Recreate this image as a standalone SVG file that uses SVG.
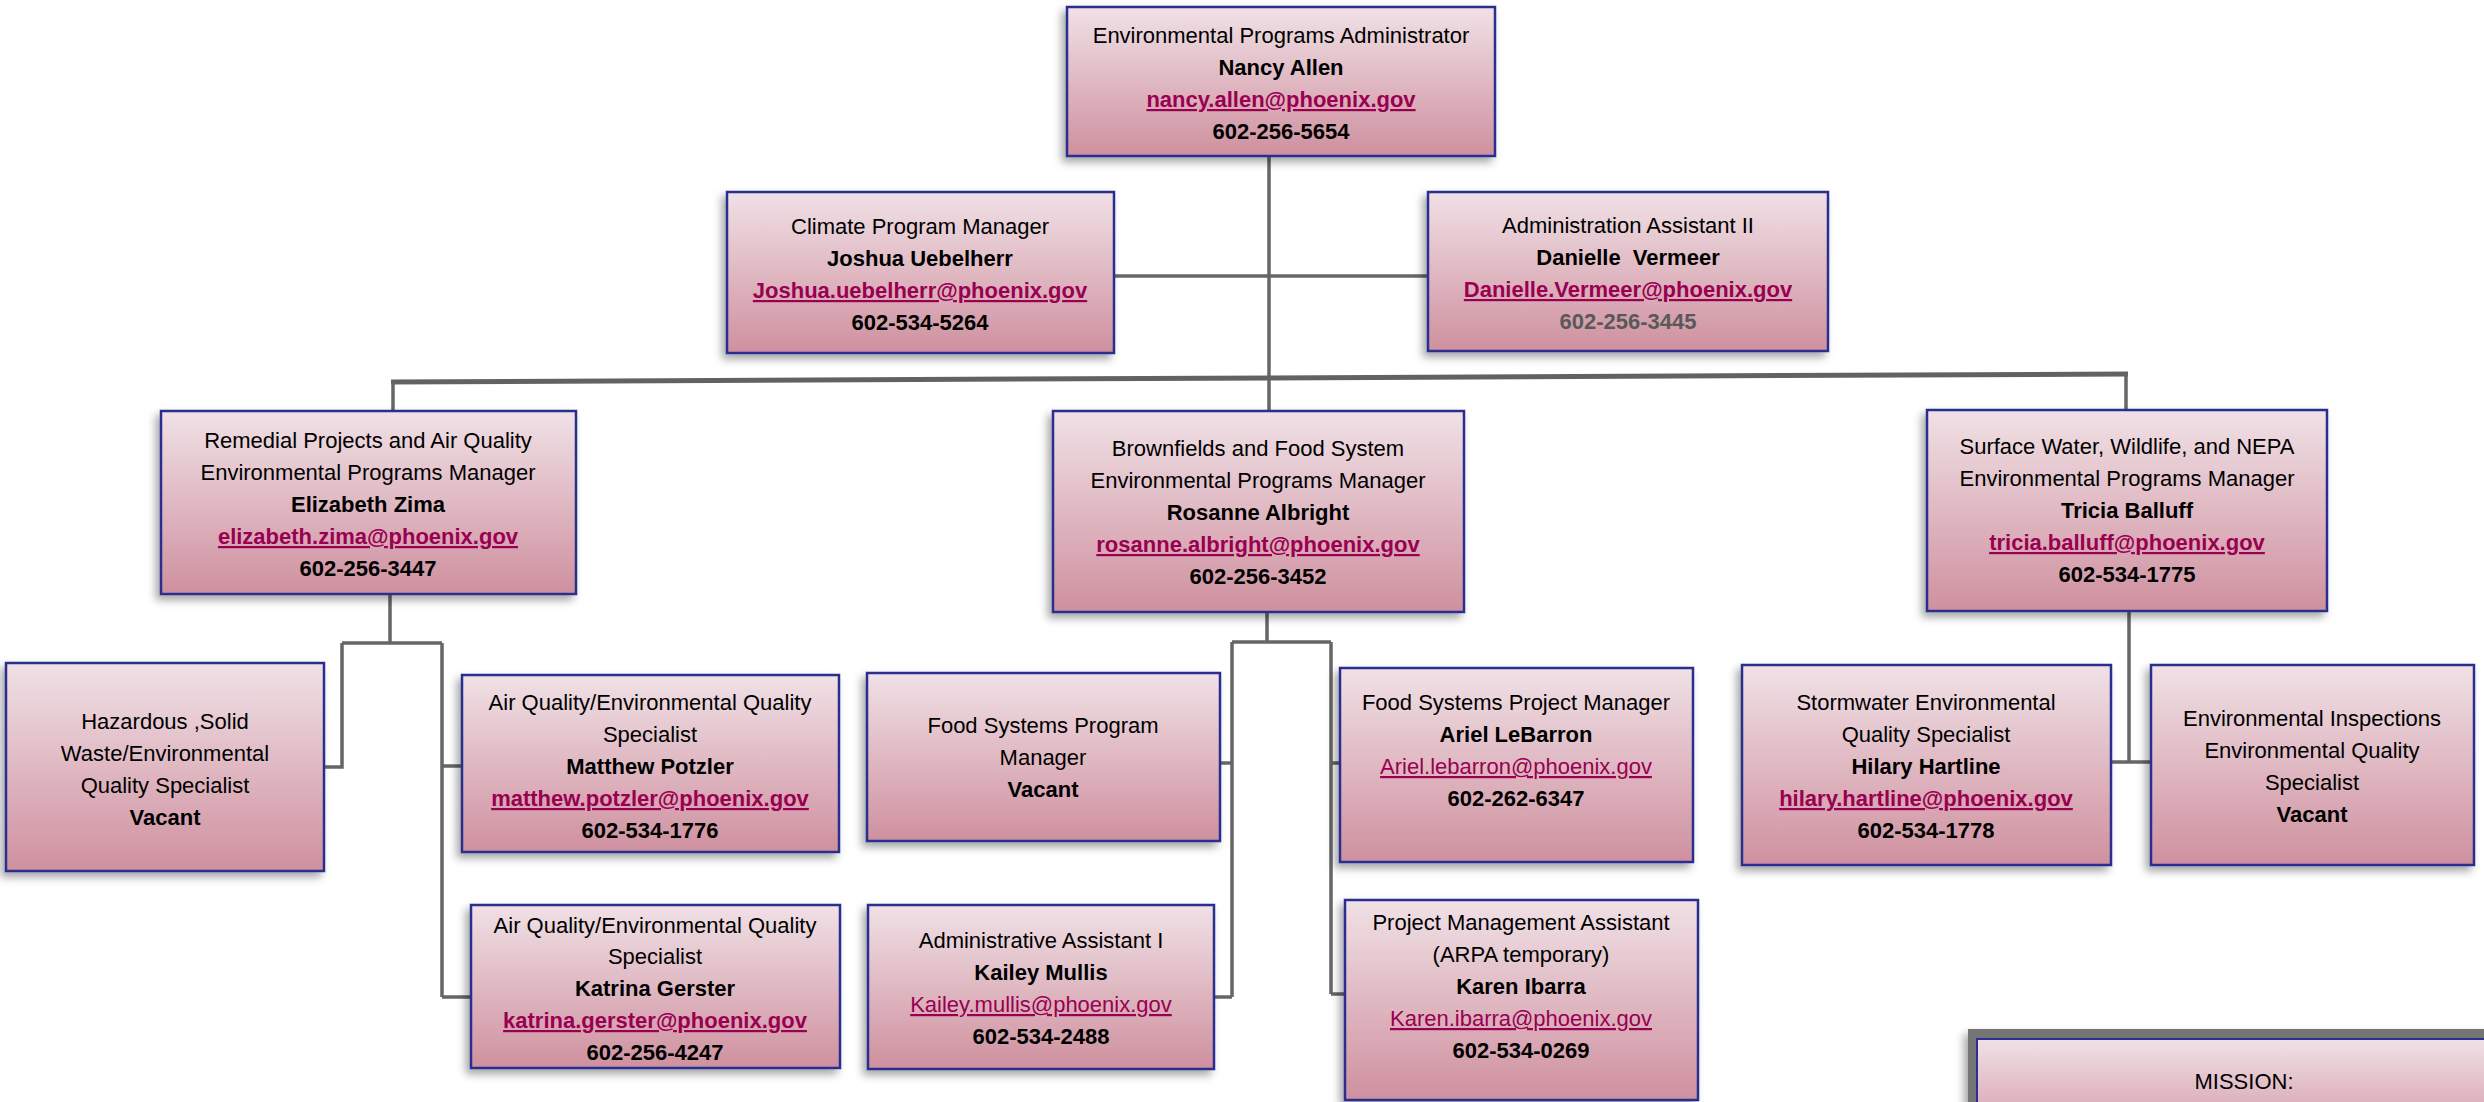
<svg xmlns="http://www.w3.org/2000/svg" width="2484" height="1102" viewBox="0 0 2484 1102">
<defs>
<linearGradient id="g" x1="0" y1="0" x2="0" y2="1">
<stop offset="0" stop-color="#f0e1e6"/>
<stop offset="1" stop-color="#cf909f"/>
</linearGradient>
<filter id="sh" x="-10%" y="-10%" width="120%" height="125%">
<feDropShadow dx="-4" dy="5" stdDeviation="4" flood-color="#000" flood-opacity="0.35"/>
</filter>
<style>
.box{fill:url(#g);stroke:#2b2f8f;stroke-width:2.5;filter:url(#sh)}
text{font-family:"Liberation Sans",Arial,sans-serif;font-size:22px;text-anchor:middle;fill:#000}
.b{font-weight:bold}
.l{fill:#990052;text-decoration:underline}
.gy{fill:#595959}
.c{fill:none;stroke:#666;stroke-width:3.5}
</style>
</defs>
<rect width="2484" height="1102" fill="#fff"/>
<g id="connectors">
<path class="c" d="M1269 156V410"/>
<path class="c" d="M1114 276H1428"/>
<path d="M391 382L2128 374" stroke="#626262" stroke-width="5" fill="none"/>
<path class="c" d="M393 382V411"/>
<path class="c" d="M2126 374V410"/>
<path class="c" d="M390 594V643M342 643H442M342 643V767H324M442 643V997M442 766H462M442 997H471"/>
<path class="c" d="M1267 612V642M1232 642H1331M1232 642V997M1232 763H1220M1232 997H1214M1331 642V994M1331 763H1340M1331 994H1345"/>
<path class="c" d="M2129 611V762M2111 762H2151"/>
</g>
<g id="n-admin">
<rect class="box" x="1067" y="7" width="428" height="149"/>
<text x="1281" y="43">Environmental Programs Administrator</text>
<text x="1281" y="75" class="b">Nancy Allen</text>
<text x="1281" y="107" class="b l">nancy.allen@phoenix.gov</text>
<text x="1281" y="139" class="b">602-256-5654</text>
</g>
<g id="n-climate">
<rect class="box" x="727" y="192" width="387" height="161"/>
<text x="920" y="234">Climate Program Manager</text>
<text x="920" y="266" class="b">Joshua Uebelherr</text>
<text x="920" y="298" class="b l">Joshua.uebelherr@phoenix.gov</text>
<text x="920" y="330" class="b">602-534-5264</text>
</g>
<g id="n-assist2">
<rect class="box" x="1428" y="192" width="400" height="159"/>
<text x="1628" y="233">Administration Assistant II</text>
<text x="1628" y="265" class="b">Danielle&#160; Vermeer</text>
<text x="1628" y="297" class="b l">Danielle.Vermeer@phoenix.gov</text>
<text x="1628" y="329" class="b gy">602-256-3445</text>
</g>
<g id="n-remedial">
<rect class="box" x="161" y="411" width="415" height="183"/>
<text x="368" y="448">Remedial Projects and Air Quality</text>
<text x="368" y="480">Environmental Programs Manager</text>
<text x="368" y="512" class="b">Elizabeth Zima</text>
<text x="368" y="544" class="b l">elizabeth.zima@phoenix.gov</text>
<text x="368" y="576" class="b">602-256-3447</text>
</g>
<g id="n-brownfields">
<rect class="box" x="1053" y="411" width="411" height="201"/>
<text x="1258" y="456">Brownfields and Food System</text>
<text x="1258" y="488">Environmental Programs Manager</text>
<text x="1258" y="520" class="b">Rosanne Albright</text>
<text x="1258" y="552" class="b l">rosanne.albright@phoenix.gov</text>
<text x="1258" y="584" class="b">602-256-3452</text>
</g>
<g id="n-surface">
<rect class="box" x="1927" y="410" width="400" height="201"/>
<text x="2127" y="454">Surface Water, Wildlife, and NEPA</text>
<text x="2127" y="486">Environmental Programs Manager</text>
<text x="2127" y="518" class="b">Tricia Balluff</text>
<text x="2127" y="550" class="b l">tricia.balluff@phoenix.gov</text>
<text x="2127" y="582" class="b">602-534-1775</text>
</g>
<g id="n-hazardous">
<rect class="box" x="6" y="663" width="318" height="208"/>
<text x="165" y="729">Hazardous ,Solid</text>
<text x="165" y="761">Waste/Environmental</text>
<text x="165" y="793">Quality Specialist</text>
<text x="165" y="825" class="b">Vacant</text>
</g>
<g id="n-potzler">
<rect class="box" x="462" y="675" width="377" height="177"/>
<text x="650" y="710">Air Quality/Environmental Quality</text>
<text x="650" y="742">Specialist</text>
<text x="650" y="774" class="b">Matthew Potzler</text>
<text x="650" y="806" class="b l">matthew.potzler@phoenix.gov</text>
<text x="650" y="838" class="b">602-534-1776</text>
</g>
<g id="n-gerster">
<rect class="box" x="471" y="905" width="369" height="163"/>
<text x="655" y="933">Air Quality/Environmental Quality</text>
<text x="655" y="964">Specialist</text>
<text x="655" y="996" class="b">Katrina Gerster</text>
<text x="655" y="1028" class="b l">katrina.gerster@phoenix.gov</text>
<text x="655" y="1060" class="b">602-256-4247</text>
</g>
<g id="n-foodprogram">
<rect class="box" x="867" y="673" width="353" height="168"/>
<text x="1043" y="733">Food Systems Program</text>
<text x="1043" y="765">Manager</text>
<text x="1043" y="797" class="b">Vacant</text>
</g>
<g id="n-mullis">
<rect class="box" x="868" y="905" width="346" height="164"/>
<text x="1041" y="948">Administrative Assistant I</text>
<text x="1041" y="980" class="b">Kailey Mullis</text>
<text x="1041" y="1012" class="l">Kailey.mullis@phoenix.gov</text>
<text x="1041" y="1044" class="b">602-534-2488</text>
</g>
<g id="n-foodproject">
<rect class="box" x="1340" y="668" width="353" height="194"/>
<text x="1516" y="710">Food Systems Project Manager</text>
<text x="1516" y="742" class="b">Ariel LeBarron</text>
<text x="1516" y="774" class="l">Ariel.lebarron@phoenix.gov</text>
<text x="1516" y="806" class="b">602-262-6347</text>
</g>
<g id="n-ibarra">
<rect class="box" x="1345" y="900" width="353" height="200"/>
<text x="1521" y="930">Project Management Assistant</text>
<text x="1521" y="962">(ARPA temporary)</text>
<text x="1521" y="994" class="b">Karen Ibarra</text>
<text x="1521" y="1026" class="l">Karen.ibarra@phoenix.gov</text>
<text x="1521" y="1058" class="b">602-534-0269</text>
</g>
<g id="n-stormwater">
<rect class="box" x="1742" y="665" width="369" height="200"/>
<text x="1926" y="710">Stormwater Environmental</text>
<text x="1926" y="742">Quality Specialist</text>
<text x="1926" y="774" class="b">Hilary Hartline</text>
<text x="1926" y="806" class="b l">hilary.hartline@phoenix.gov</text>
<text x="1926" y="838" class="b">602-534-1778</text>
</g>
<g id="n-inspections">
<rect class="box" x="2151" y="665" width="323" height="200"/>
<text x="2312" y="726">Environmental Inspections</text>
<text x="2312" y="758">Environmental Quality</text>
<text x="2312" y="790">Specialist</text>
<text x="2312" y="822" class="b">Vacant</text>
</g>
<g id="n-mission">
<rect x="1972.5" y="1033.5" width="560" height="120" fill="#757575" stroke="#757575" stroke-width="9" filter="url(#sh)"/>
<rect x="1977" y="1039" width="550" height="110" fill="url(#g)" stroke="#2b2f8f" stroke-width="2"/>
<text x="2244" y="1089">MISSION:</text>
</g>
</svg>
